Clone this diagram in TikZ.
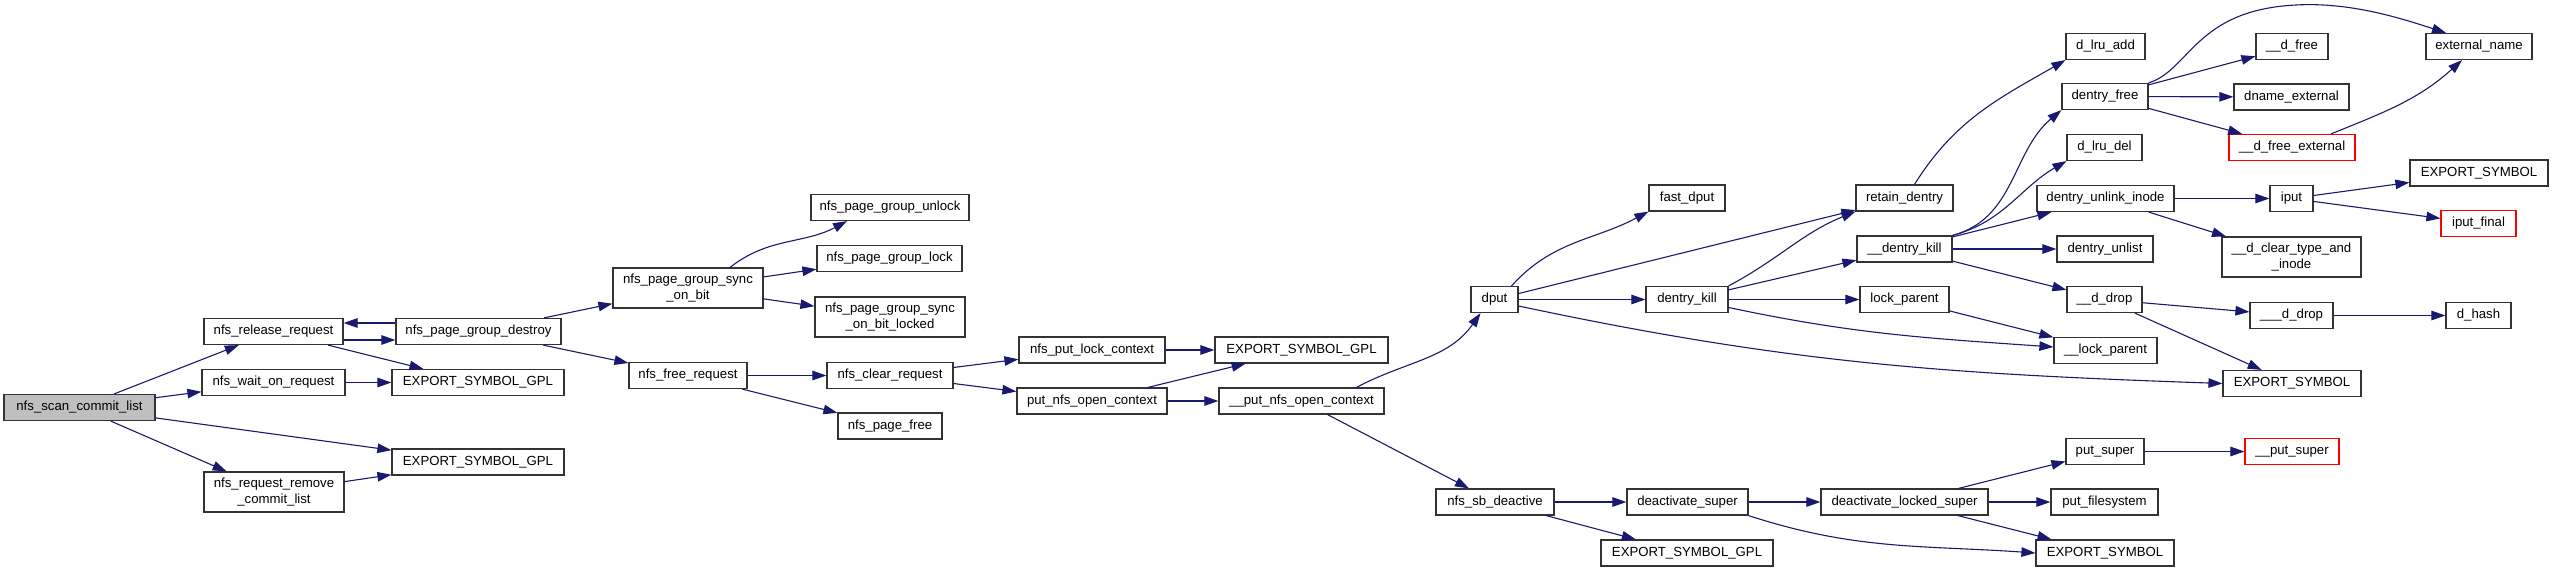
\documentclass[tikz,border=0pt]{standalone}
\usepackage{fontspec}
\setmainfont{Liberation Sans}
\usetikzlibrary{arrows.meta}
\definecolor{edgeblue}{RGB}{25,25,112}
\definecolor{rootgray}{RGB}{191,191,191}

\begin{document}
\begin{tikzpicture}[
  x=1pt, y=1pt,
  fnode/.style={rectangle, draw=black!80, fill=white, line width=1.2pt, inner sep=1pt, minimum height=26pt, font=\fontsize{13.2}{16}\selectfont, align=center},
  tall/.style={minimum height=40pt},
  rootnode/.style={fnode, fill=rootgray},
  rednode/.style={fnode, draw=red},
  call/.style={line width=1.1pt, draw=edgeblue, -{Triangle[length=14pt, width=9.5pt]}}
]
  \useasboundingbox (0,0) rectangle (2553,-572);

  % --- Wurzel und erste Ebene ---
  \node[rootnode, minimum width=151pt] (scan) at (79.5,-407.5) {nfs\_scan\_commit\_list};
  \node[fnode, minimum width=139pt] (release) at (273.5,-331.5) {nfs\_release\_request};
  \node[fnode, minimum width=143pt] (wait) at (273.5,-382.5) {nfs\_wait\_on\_request};
  \node[fnode, tall, minimum width=140pt] (remove) at (274,-492) {nfs\_request\_remove\\\_commit\_list};

  \node[fnode, minimum width=165pt] (destroy) at (478.5,-331.5) {nfs\_page\_group\_destroy};
  \node[fnode, minimum width=172pt] (gplA) at (478,-382.5) {EXPORT\_SYMBOL\_GPL};
  \node[fnode, minimum width=172pt] (gplB) at (478,-462) {EXPORT\_SYMBOL\_GPL};

  % --- nfs_page ---
  \node[fnode, tall, minimum width=150pt] (sync) at (688,-288) {nfs\_page\_group\_sync\\\_on\_bit};
  \node[fnode, minimum width=118pt] (freereq) at (688,-375.5) {nfs\_free\_request};
  \node[fnode, minimum width=158pt] (unlock) at (890,-207.5) {nfs\_page\_group\_unlock};
  \node[fnode, minimum width=145pt] (lock) at (889.5,-258.5) {nfs\_page\_group\_lock};
  \node[fnode, tall, minimum width=150pt] (locked) at (890,-317) {nfs\_page\_group\_sync\\\_on\_bit\_locked};
  \node[fnode, minimum width=126pt] (clear) at (890,-375.5) {nfs\_clear\_request};
  \node[fnode, minimum width=104pt] (pagefree) at (890,-426) {nfs\_page\_free};

  % --- Kontexte ---
  \node[fnode, minimum width=146pt] (putlock) at (1092,-350) {nfs\_put\_lock\_context};
  \node[fnode, minimum width=150pt] (putnfs) at (1092,-401) {put\_nfs\_open\_context};
  \node[fnode, minimum width=173pt] (gplC) at (1301.5,-350) {EXPORT\_SYMBOL\_GPL};
  \node[fnode, minimum width=165pt] (putnfsb) at (1301.5,-401) {\_\_put\_nfs\_open\_context};

  % --- dput und Superblock ---
  \node[fnode, minimum width=47pt] (dput) at (1494.5,-299.5) {dput};
  \node[fnode, minimum width=118pt] (sbdeact) at (1495,-502) {nfs\_sb\_deactive};
  \node[fnode, minimum width=76pt] (fastdput) at (1687,-198) {fast\_dput};
  \node[fnode, minimum width=82pt] (dkill) at (1687,-299.5) {dentry\_kill};
  \node[fnode, minimum width=121pt] (deact) at (1687.5,-502) {deactivate\_super};
  \node[fnode, minimum width=172pt] (gplD) at (1687,-553) {EXPORT\_SYMBOL\_GPL};

  \node[fnode, minimum width=97pt] (retain) at (1904.5,-198) {retain\_dentry};
  \node[fnode, minimum width=95pt] (dkillb) at (1904.5,-249) {\_\_dentry\_kill};
  \node[fnode, minimum width=89pt] (lockpar) at (1904.5,-299.5) {lock\_parent};
  \node[fnode, minimum width=167pt] (deactlock) at (1904.5,-502) {deactivate\_locked\_super};

  % --- dentry Spalte ---
  \node[fnode, minimum width=79pt] (lruadd) at (2105.5,-46.5) {d\_lru\_add};
  \node[fnode, minimum width=86pt] (dfree) at (2105,-96.5) {dentry\_free};
  \node[fnode, minimum width=75pt] (lrudel) at (2104.5,-147.5) {d\_lru\_del};
  \node[fnode, minimum width=137pt] (unlink) at (2105.5,-198.5) {dentry\_unlink\_inode};
  \node[fnode, minimum width=96pt] (unlist) at (2105,-249) {dentry\_unlist};
  \node[fnode, minimum width=75pt] (ddrop) at (2104.5,-299.5) {\_\_d\_drop};
  \node[fnode, minimum width=103pt] (lockparb) at (2105.5,-350.5) {\_\_lock\_parent};
  \node[fnode, minimum width=78pt] (putsuper) at (2105,-451.5) {put\_super};
  \node[fnode, minimum width=107pt] (putfs) at (2104.5,-502) {put\_filesystem};
  \node[fnode, minimum width=138pt] (esymC) at (2105,-553) {EXPORT\_SYMBOL};

  \node[fnode, minimum width=72pt] (dfreeb) at (2292,-46.5) {\_\_d\_free};
  \node[fnode, minimum width=115pt] (dname) at (2291.5,-97) {dname\_external};
  \node[rednode, minimum width=126pt] (dfreeext) at (2292,-147.5) {\_\_d\_free\_external};
  \node[fnode, minimum width=43pt] (iput) at (2291.5,-198.5) {iput};
  \node[fnode, tall, minimum width=139pt] (dclear) at (2291.5,-257) {\_\_d\_clear\_type\_and\\\_inode};
  \node[fnode, minimum width=83pt] (ddropb) at (2291.5,-315.5) {\_\_\_d\_drop};
  \node[fnode, minimum width=138pt] (esymB) at (2292,-383.5) {EXPORT\_SYMBOL};
  \node[rednode, minimum width=94pt] (putsuperb) at (2292,-451.5) {\_\_put\_super};

  \node[fnode, minimum width=106pt] (extname) at (2479,-46.5) {external\_name};
  \node[fnode, minimum width=138pt] (esymA) at (2479,-173) {EXPORT\_SYMBOL};
  \node[rednode, minimum width=75pt] (iputfin) at (2478.5,-223.5) {iput\_final};
  \node[fnode, minimum width=65pt] (dhash) at (2478.5,-315.5) {d\_hash};

  % --- Aufrufe ---
  \draw[call] (scan) -- (release);
  \draw[call] (scan) -- (wait);
  \draw[call] (scan) -- (gplB);
  \draw[call] (scan) -- (remove);
  \draw[call] ([yshift=-8.5pt]release.east) -- ([yshift=-8.5pt]destroy.west);
  \draw[call] ([yshift=8.5pt]destroy.west) -- ([yshift=8.5pt]release.east);
  \draw[call] (release) -- (gplA);
  \draw[call] (wait) -- (gplA);
  \draw[call] (remove) -- (gplB);

  \draw[call] (destroy) -- (sync);
  \draw[call] (destroy) -- (freereq);
  \draw[call] ([xshift=42pt]sync.north) to[out=38, in=-152] ([xshift=-43pt]unlock.south);
  \draw[call] (sync) -- (lock);
  \draw[call] (sync) -- (locked);
  \draw[call] (freereq) -- (clear);
  \draw[call] (freereq) -- (pagefree);
  \draw[call] (clear) -- (putlock);
  \draw[call] (clear) -- (putnfs);
  \draw[call] (putlock) -- (gplC);
  \draw[call] (putnfs) -- (gplC);
  \draw[call] (putnfs) -- (putnfsb);
  \draw[call] ([xshift=55pt]putnfsb.north) to[out=28, in=-125] ([xshift=-14pt]dput.south);
  \draw[call] (putnfsb) -- (sbdeact);

  \draw[call] ([xshift=17pt]dput.north) to[out=48, in=-152] (fastdput.south west);
  \draw[call] (dput) -- (retain);
  \draw[call] (dput) -- (dkill);
  \draw[call] ([yshift=-6.5pt]dput.east) to[out=-12, in=178] (esymB.west);
  \draw[call] (dkill.north east) to[out=28, in=-158] (retain.south west);
  \draw[call] (dkill) -- (dkillb);
  \draw[call] (dkill) -- (lockpar);
  \draw[call] ([yshift=-8pt]dkill.east) to[out=-12, in=176] ([yshift=3.5pt]lockparb.west);
  \draw[call] (lockpar) -- (lockparb);
  \draw[call] ([xshift=10pt]retain.north) to[out=58, in=-150] (lruadd.south west);

  \draw[call] (dkillb.north east) to[out=15, in=-140] (dfree.south west);
  \draw[call] (dkillb.north east) to[out=15, in=-150] (lrudel.south west);
  \draw[call] (dkillb) -- (unlink);
  \draw[call] (dkillb) -- (unlist);
  \draw[call] (dkillb) -- (ddrop);

  \draw[call] (dfree.north east) .. controls (2190,-70) and (2195,-10) .. (2296,-5)
    .. controls (2350,-2) and (2400,-18) .. ([xshift=-33pt]extname.north);
  \draw[call] (dfree) -- (dfreeb);
  \draw[call] (dfree) -- (dname);
  \draw[call] (dfree) -- (dfreeext);
  \draw[call] ([xshift=39pt]dfreeext.north) to[out=22, in=-138] ([xshift=-17pt]extname.south);
  \draw[call] (unlink) -- (iput);
  \draw[call] (unlink) -- (dclear);
  \draw[call] (iput) -- (esymA);
  \draw[call] (iput) -- (iputfin);
  \draw[call] (ddrop) -- (ddropb);
  \draw[call] (ddrop) -- (esymB);
  \draw[call] (ddropb) -- (dhash);

  \draw[call] (sbdeact) -- (deact);
  \draw[call] (sbdeact) -- (gplD);
  \draw[call] (deact) -- (deactlock);
  \draw[call] (deact.south east) to[out=-18, in=176] (esymC.west);
  \draw[call] (deactlock) -- (putsuper);
  \draw[call] (deactlock) -- (putfs);
  \draw[call] (deactlock) -- (esymC);
  \draw[call] (putsuper) -- (putsuperb);

\end{tikzpicture}
\end{document}
